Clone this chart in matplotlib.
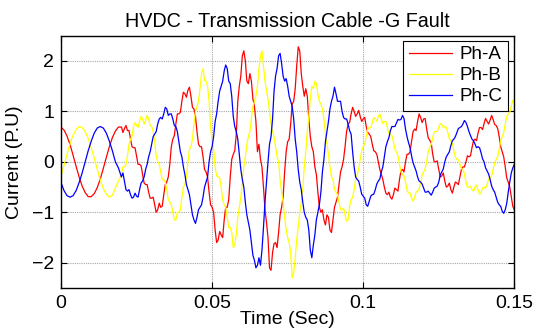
import numpy as np
import matplotlib
matplotlib.use("Agg")
import matplotlib.pyplot as plt

plt.rcParams['font.family'] = ['Liberation Sans', 'DejaVu Sans']

# values read on the whole milliseconds, 0 .. 150 ms
ph_a = [0.69, 0.63, 0.51, 0.34, 0.13, -0.09, -0.30, -0.48, -0.61, -0.69,
        -0.69, -0.63, -0.51, -0.34, -0.13, 0.09, 0.30, 0.48, 0.61, 0.69,
        0.69, 0.66, 0.62, 0.45, 0.28, 0.12, -0.05, -0.25, -0.45, -0.6,
        -0.72, -0.85, -0.95, -0.9, -0.65, -0.4, -0.05, 0.45, 0.75, 0.95,
        1.2, 1.35, 1.42, 1.3, 1.05, 0.6, 0.3, 0.1, -0.2, -0.6,
        -0.9, -1.35, -1.55, -1.45, -1.15, -0.9, -0.3, 0.15, 0.55, 1.5,
        2.1, 2.0, 1.55, 1.6, 1.1, 0.2, 0.05, -0.5, -1.2, -2.1,
        -1.8, -1.6, -1.4, -0.9, -0.2, 0.4, 0.75, 1.2, 1.9, 2.2,
        1.5, 1.45, 0.85, 0.3, -0.1, -0.6, -1.0, -1.15, -1.05, -1.35,
        -1.15, -0.8, -0.45, -0.1, 0.3, 0.75, 0.95, 1.0, 0.95, 0.9,
        0.85, 0.7, 0.55, 0.35, 0.2, 0.0, -0.25, -0.5, -0.65, -0.7,
        -0.65, -0.55, -0.35, -0.15, 0.0, 0.15, 0.4, 0.65, 0.8, 0.88,
        0.85, 0.65, 0.43, 0.15, 0.0, -0.15, -0.28, -0.38, -0.48, -0.55,
        -0.5, -0.42, -0.3, -0.1, 0.0, 0.1, 0.28, 0.45, 0.57, 0.68,
        0.76, 0.8, 0.83, 0.84, 0.72, 0.5, 0.2, -0.1, -0.4, -0.69,
        -0.95]

ph_b = [-0.28, -0.07, 0.15, 0.36, 0.53, 0.64, 0.70, 0.68, 0.60, 0.46,
        0.28, 0.07, -0.15, -0.36, -0.53, -0.64, -0.70, -0.66, -0.52, -0.38,
        -0.25, -0.1, 0.12, 0.45, 0.7, 0.72, 0.8, 0.85, 0.82, 0.85,
        0.7, 0.4, 0.0, -0.2, -0.35, -0.55, -0.8, -1.0, -1.15, -1.0,
        -0.7, -0.45, 0.0, 0.3, 0.75, 1.1, 1.45, 1.85, 1.6, 1.2,
        0.4, -0.1, -0.3, -0.5, -0.85, -1.1, -1.3, -1.7, -1.45, -0.9,
        -0.4, 0.1, 0.5, 0.85, 1.2, 1.5, 2.1, 1.9, 1.4, 1.0,
        0.6, 0.3, 0.0, -0.6, -1.1, -1.5, -1.8, -2.2, -1.55, -1.0,
        -0.55, 0.2, 0.9, 1.5, 1.6, 1.35, 1.15, 0.85, 0.35, -0.1,
        -0.35, -0.6, -0.8, -0.95, -1.05, -1.15, -0.75, -0.55, -0.25, 0.05,
        0.3, 0.5, 0.68, 0.78, 0.85, 0.9, 0.85, 0.8, 0.68, 0.55,
        0.4, 0.2, -0.05, -0.25, -0.4, -0.62, -0.72, -0.7, -0.58, -0.42,
        -0.2, 0.0, 0.3, 0.48, 0.6, 0.68, 0.74, 0.7, 0.58, 0.42,
        0.22, 0.05, -0.05, -0.15, -0.4, -0.5, -0.55, -0.5, -0.55, -0.62,
        -0.5, -0.45, -0.32, -0.15, 0.05, 0.25, 0.5, 0.75, 0.95, 1.1,
        1.2]

ph_c = [-0.41, -0.57, -0.67, -0.70, -0.67, -0.57, -0.41, -0.22, 0.0, 0.22,
        0.41, 0.57, 0.67, 0.70, 0.67, 0.57, 0.41, 0.22, 0.0, -0.12,
        -0.3, -0.38, -0.58, -0.65, -0.7, -0.68, -0.55, -0.38, -0.15, 0.1,
        0.35, 0.55, 0.75, 0.88, 0.95, 1.05, 0.95, 0.85, 0.7, 0.4,
        0.1, -0.25, -0.55, -0.85, -1.15, -1.1, -0.9, -0.7, -0.4, 0.0,
        0.3, 0.8, 1.2, 1.5, 1.8, 1.85, 1.55, 0.9, 0.6, 0.15,
        -0.35, -0.8, -1.2, -1.6, -1.95, -2.05, -2.05, -1.3, -0.4, 0.35,
        0.85, 1.7, 2.1, 1.95, 1.6, 1.5, 1.2, 0.85, 0.2, -0.4,
        -0.8, -1.1, -1.35, -1.9, -1.45, -1.0, -0.6, 0.05, 0.6, 1.05,
        1.3, 1.35, 1.2, 1.0, 0.85, 0.75, 0.55, -0.1, -0.35, -0.5,
        -0.68, -0.85, -0.78, -0.65, -0.55, -0.38, -0.2, 0.1, 0.4, 0.62,
        0.7, 0.77, 0.83, 0.92, 0.65, 0.38, 0.12, -0.1, -0.3, -0.4,
        -0.52, -0.6, -0.62, -0.6, -0.5, -0.4, -0.2, 0.0, 0.15, 0.32,
        0.45, 0.58, 0.68, 0.75, 0.78, 0.6, 0.45, 0.35, 0.3, 0.18,
        0.0, -0.18, -0.35, -0.55, -0.7, -0.85, -0.98, -0.95, -0.6, -0.22,
        -0.05]

# values read on the half milliseconds of the noisy part, 20.5 .. 149.5 ms
ph_a_half = [0.58, 0.72, 0.62, 0.30, 0.28, -0.05, -0.08, -0.42, -0.45, -0.72,
             -0.7, -1.0, -0.82, -0.88, -0.45, -0.3, 0.3, 0.52, 0.95, 0.98,
             1.38, 1.28, 1.48, 1.08, 0.9, 0.35, 0.3, -0.15, -0.3, -0.85,
             -1.0, -1.6, -1.38, -1.5, -0.9, -0.75, 0.05, 0.22, 1.2, 1.7,
             2.2, 1.6, 1.75, 1.25, 0.8, 0.35, -0.1, -0.95, -1.5, -2.15,
             -1.62, -1.7, -1.05, -0.7, 0.2, 0.45, 1.15, 1.45, 2.28, 1.75,
             1.3, 1.3, 0.5, 0.2, -0.25, -0.9, -0.95, -1.25, -1.1, -1.4,
             -0.9, -0.7, -0.2, 0.05, 0.6, 0.78, 1.08, 0.9, 1.02, 0.8,
             0.88, 0.58, 0.5, 0.22, 0.15, -0.15, -0.35, -0.62, -0.6, -0.74,
             -0.52, -0.58, -0.18, -0.2, 0.15, 0.2, 0.6, 0.62, 0.95, 0.78,
             0.86, 0.48, 0.38, 0.0, 0.02, -0.3, -0.22, -0.5, -0.42, -0.62,
             -0.4, -0.45, -0.15, -0.1, 0.12, 0.12, 0.42, 0.42, 0.68, 0.64,
             0.86, 0.75, 0.92, 0.74, 0.66, 0.3, 0.1, -0.32, -0.5, -0.88]

ph_b_half = [-0.1, -0.05, 0.35, 0.5, 0.78, 0.68, 0.9, 0.75, 0.92, 0.72,
             0.6, 0.12, -0.05, -0.35, -0.4, -0.75, -0.85, -1.15, -1.0, -0.95,
             -0.5, -0.3, 0.25, 0.45, 1.0, 1.2, 1.75, 1.62, 1.5, 0.7,
             0.25, -0.28, -0.32, -0.75, -0.9, -1.3, -1.4, -1.65, -1.1, -0.7,
             -0.1, 0.35, 0.6, 1.1, 1.3, 1.85, 2.2, 1.6, 1.25, 0.75,
             0.5, 0.1, -0.35, -0.8, -1.35, -1.6, -2.3, -1.9, -1.3, -0.8,
             -0.1, 0.6, 1.25, 1.45, 1.55, 1.2, 1.05, 0.55, 0.15, -0.3,
             -0.55, -0.65, -0.95, -0.92, -1.18, -0.88, -0.7, -0.35, -0.15, 0.22,
             0.35, 0.65, 0.68, 0.88, 0.8, 0.95, 0.76, 0.8, 0.56, 0.52,
             0.25, 0.12, -0.2, -0.28, -0.56, -0.62, -0.78, -0.6, -0.54, -0.26,
             -0.14, 0.2, 0.34, 0.6, 0.6, 0.76, 0.68, 0.68, 0.46, 0.36,
             0.1, 0.04, -0.14, -0.24, -0.5, -0.48, -0.58, -0.46, -0.64, -0.52,
             -0.52, -0.34, -0.28, -0.02, 0.1, 0.42, 0.58, 0.9, 0.98, 1.22]

ph_c_half = [-0.22, -0.55, -0.55, -0.72, -0.62, -0.7, -0.42, -0.3, -0.05, 0.2,
             0.5, 0.6, 0.85, 0.85, 1.08, 0.92, 0.95, 0.72, 0.6, 0.2,
             -0.1, -0.45, -0.65, -1.05, -1.22, -0.95, -0.85, -0.5, -0.3, 0.2,
             0.5, 0.95, 1.4, 1.6, 1.92, 1.6, 1.3, 0.7, 0.45, -0.15,
             -0.5, -1.05, -1.35, -1.85, -2.1, -1.9, -1.75, -0.8, 0.0, 0.5,
             1.4, 1.85, 2.15, 1.7, 1.65, 1.3, 1.1, 0.45, -0.15, -0.55,
             -1.0, -1.15, -1.75, -1.65, -1.15, -0.85, -0.2, 0.4, 0.8, 1.2,
             1.48, 1.2, 1.2, 0.88, 0.85, 0.62, 0.2, -0.3, -0.38, -0.64,
             -0.72, -0.88, -0.68, -0.64, -0.44, -0.34, -0.1, 0.3, 0.48, 0.7,
             0.7, 0.84, 0.84, 0.86, 0.5, 0.28, -0.02, -0.18, -0.38, -0.44,
             -0.6, -0.58, -0.66, -0.52, -0.48, -0.26, -0.14, 0.1, 0.2, 0.42,
             0.5, 0.66, 0.7, 0.82, 0.7, 0.52, 0.42, 0.28, 0.28, 0.06,
             -0.12, -0.24, -0.48, -0.6, -0.8, -0.88, -1.02, -0.82, -0.4, -0.12]

series_labels = ['Ph-A', 'Ph-B', 'Ph-C']
series_colors = ['#ff0000', '#ffff00', '#0000ff']
x_ticks = [0, 0.05, 0.1, 0.15]
x_ticklabels = ['0', '0.05', '0.1', '0.15']
y_ticks = [-2, -1, 0, 1, 2]


def merge(whole, half):
    """Put the whole-ms and half-ms readings in time order."""
    t = list(np.arange(0, 20)) 
    v = list(whole[:20])
    for k in range(20, 150):
        t += [k, k + 0.5]
        v += [whole[k], half[k - 20]]
    t.append(150)
    v.append(whole[150])
    return np.array(t) / 1000.0, np.array(v)


fig = plt.figure(figsize=(5.37, 3.28), dpi=100)
ax = fig.add_axes([61/537, 40/328, 453.3/537, 252.3/328])

for whole, half, lab, col in zip([ph_a, ph_b, ph_c], [ph_a_half, ph_b_half, ph_c_half],
                                 series_labels, series_colors):
    t, v = merge(whole, half)
    ax.plot(t, v, color=col, lw=0.9, label=lab)

ax.set_xlim(0, 0.15)
ax.set_ylim(-2.5, 2.5)
ax.set_xticks(x_ticks)
ax.set_xticklabels(x_ticklabels)
ax.set_yticks(y_ticks)
ax.grid(True, color='#a8a8a8', linestyle=(0, (1, 1)), linewidth=0.8)
ax.set_axisbelow(True)
ax.tick_params(direction='in', top=True, right=True, length=4, width=0.8,
               labelsize=14, pad=5)
for s in ax.spines.values():
    s.set_linewidth(1.0)
    s.set_color('black')

ax.set_title('HVDC - Transmission Cable -G Fault', fontsize=14.2, pad=6)
ax.set_xlabel('Time (Sec)', fontsize=14, labelpad=-1)
ax.set_ylabel('Current (P.U)', fontsize=14, labelpad=6)

leg = ax.legend(loc='upper right', bbox_to_anchor=(0.986, 0.980), borderaxespad=0,
                fontsize=13.5, frameon=True, fancybox=False, framealpha=1,
                edgecolor='black', handlelength=2.3, handletextpad=0.4,
                labelspacing=0.2, borderpad=0.3)
leg.get_frame().set_linewidth(0.8)

fig.savefig('out.png', dpi=100)
